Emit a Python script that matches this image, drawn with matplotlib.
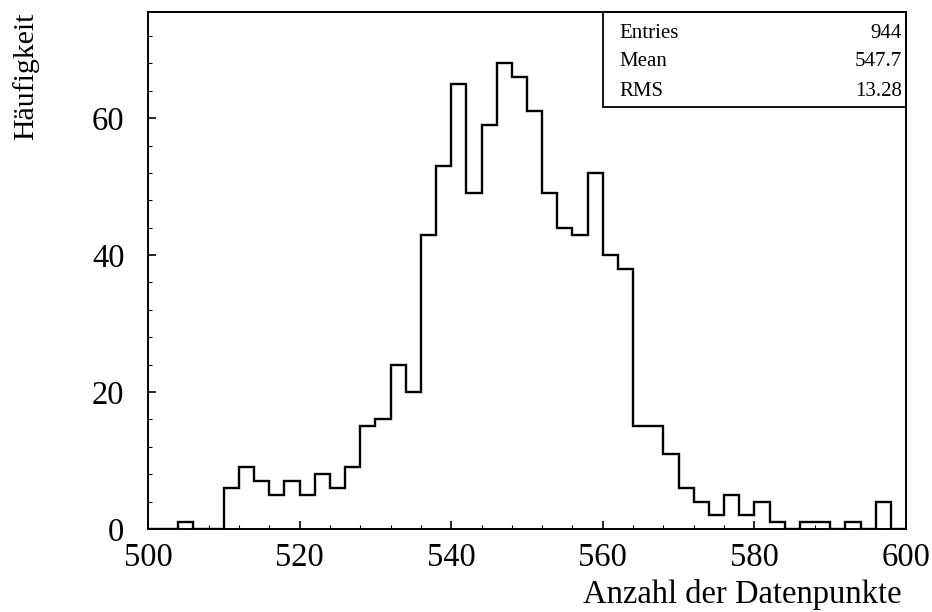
import numpy as np
import matplotlib
matplotlib.use("Agg")
from matplotlib import pyplot as plt
from matplotlib.patches import Rectangle
from matplotlib.ticker import MultipleLocator

# histogram contents, bins of width 2 from 500 to 600
bin_lo = 500
bin_hi = 600
bin_width = 2
counts = [0, 0, 1, 0, 0, 6, 9, 7, 5, 7,
          5, 8, 6, 9, 15, 16, 24, 20, 43, 53,
          65, 49, 59, 68, 66, 61, 49, 44, 43, 52,
          40, 38, 15, 15, 11, 6, 4, 2, 5, 2,
          4, 1, 0, 1, 1, 0, 1, 0, 4, 0]

stat_names = ["Entries", "Mean", "RMS"]
stat_values = ["944", "547.7", "13.28"]

x_ticks = [500, 520, 540, 560, 580, 600]
y_ticks = [0, 20, 40, 60]

plt.rcParams['font.family'] = ['Liberation Serif', 'DejaVu Serif']

W, H = 932, 612
fig = plt.figure(figsize=(W / 100, H / 100), dpi=100)
ax = fig.add_axes([148 / W, (H - 529) / H, 758 / W, 517 / H])

edges = np.arange(bin_lo, bin_hi + bin_width, bin_width)
ax.stairs(counts, edges, color='black', linewidth=1.7)

ax.set_xlim(bin_lo, bin_hi)
ax.set_ylim(0, 75.5)
ax.set_xticks(x_ticks)
ax.set_yticks(y_ticks)
ax.xaxis.set_minor_locator(MultipleLocator(4))
ax.yaxis.set_minor_locator(MultipleLocator(4))
ax.tick_params(which='major', direction='in', length=6, width=1.2,
               labelsize=23.5)
ax.tick_params(which='minor', direction='in', length=3, width=0.8)
ax.tick_params(axis='x', which='major', pad=10)
ax.tick_params(axis='y', which='major', pad=17)
for s in ax.spines.values():
    s.set_linewidth(1.4)

# statistics box
bx, by = 0.600, 0.817
ax.add_patch(Rectangle((bx, by), 1 - bx, 1 - by, transform=ax.transAxes,
                       fill=False, edgecolor='black', linewidth=1.3,
                       clip_on=False))
row_y = [0.959, 0.904, 0.846]
for name, val, yy in zip(stat_names, stat_values, row_y):
    ax.text(0.622, yy, name, transform=ax.transAxes, fontsize=15,
            ha='left', va='center')
    ax.text(0.995, yy, val, transform=ax.transAxes, fontsize=15,
            ha='right', va='center')

fig.text(26 / W, 1 - 12 / H, "Häufigkeit", rotation=90, fontsize=21.5,
         ha='center', va='top')
fig.text(902 / W, 1 - 603 / H, "Anzahl der Datenpunkte", fontsize=23.5,
         ha='right', va='baseline')

plt.savefig("out.png", dpi=100)
